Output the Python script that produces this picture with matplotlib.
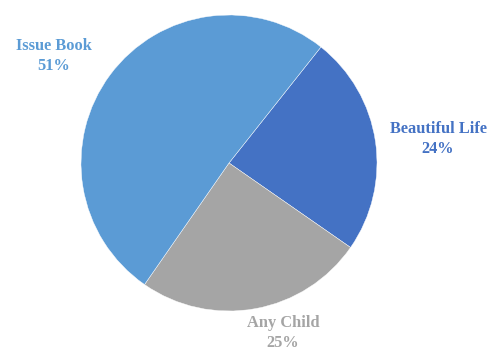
import matplotlib.pyplot as plt

labels = ["Beautiful Life", "Any Child", "Issue Book"]
values = [24, 25, 51]
colors = ["#4472C4", "#A5A5A5", "#5B9BD5"]

# label centres in pixels (x, y from top)
label_pos = [(438, 139), (283, 333), (54, 56)]

W, H = 492, 352
fig = plt.figure(figsize=(W / 100, H / 100), dpi=100)
cx, cy, r = 229, 163, 148
ax = fig.add_axes([(cx - r) / W, (H - cy - r) / H, 2 * r / W, 2 * r / H])

ax.pie(values, colors=colors, startangle=51.6, counterclock=False,
       wedgeprops=dict(edgecolor="white", linewidth=0.3))
ax.set_xlim(-1, 1)
ax.set_ylim(-1, 1)
ax.set_aspect("equal")

for lab, val, col, (px, py) in zip(labels, values, colors, label_pos):
    fig.text(px / W, 1 - py / H, f"{lab}\n{val}%", color=col,
             ha="center", va="center", fontsize=11.8, fontweight="bold",
             family="Liberation Serif", linespacing=1.35)

plt.savefig("out.png", dpi=100)
